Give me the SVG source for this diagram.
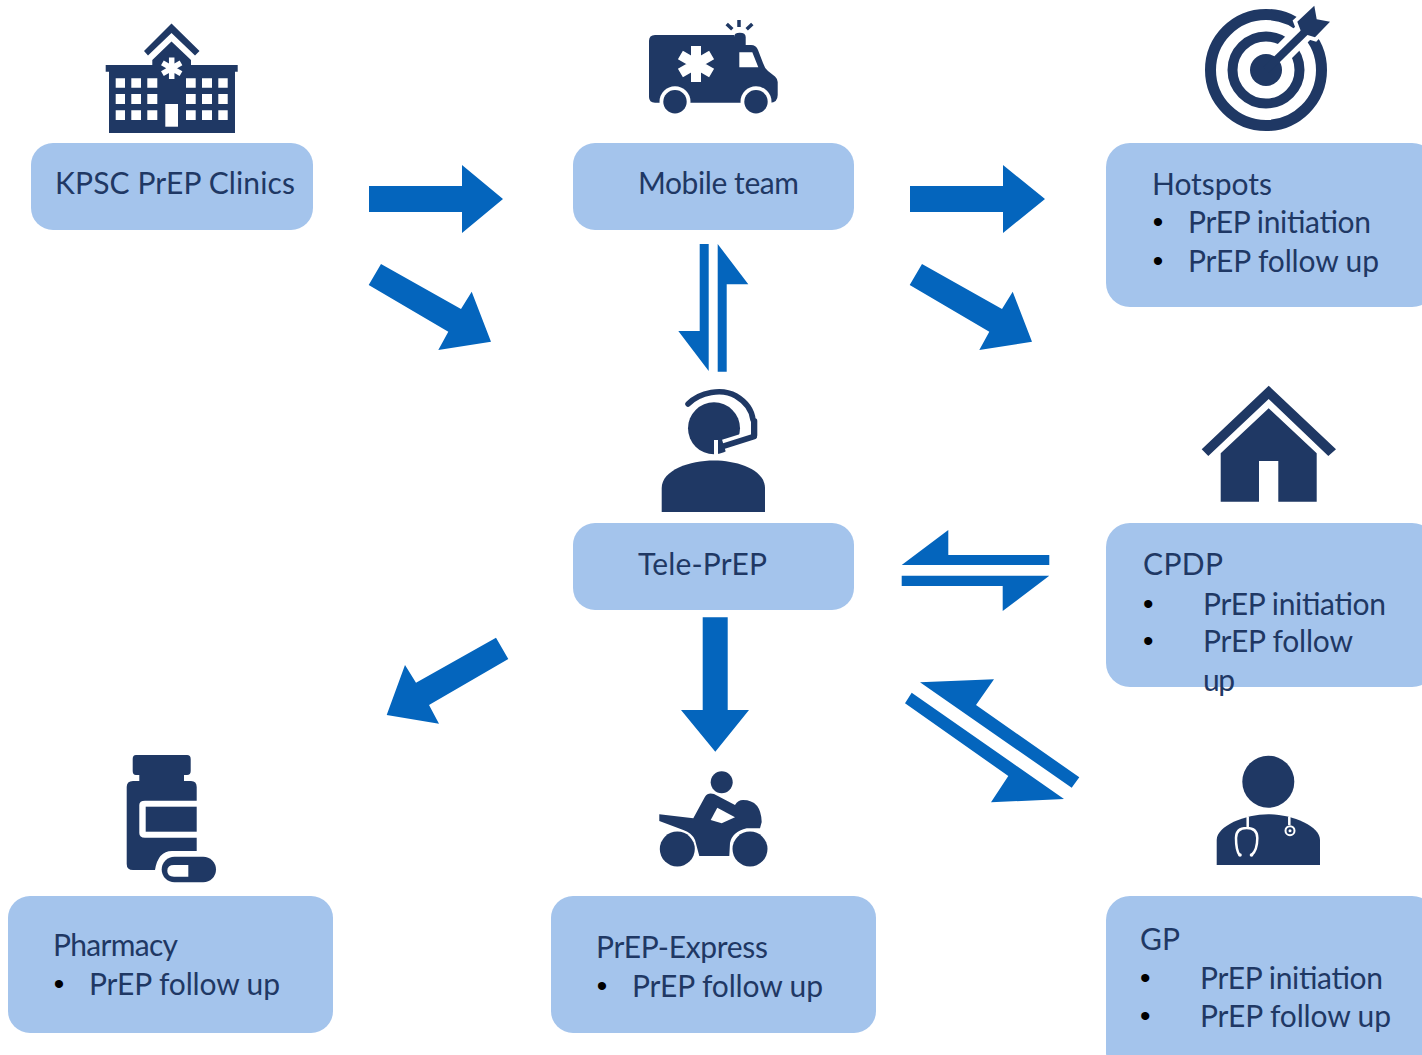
<svg xmlns="http://www.w3.org/2000/svg" width="1422" height="1055" viewBox="0 0 1422 1055">
<style>
.box{fill:#a4c4ec}
.ic{fill:#1f3864}
.w{fill:#fff}
.ln{fill:none;stroke:#1f3864}
.wl{fill:none;stroke:#fff}
.ar{fill:#0465bd}
text{font-family:"Lato","Open Sans","Liberation Sans",sans-serif;font-size:30px;fill:#1f3864}
text.b{font-family:"Liberation Sans",Arial,sans-serif;fill:#000}
</style>
<rect width="1422" height="1055" fill="#fff"/>
<g id="connectors" class="ar">
<path d="M369 186H462V165L503 199L462 233V212H369Z"/>
<path d="M910 186H1003V165L1045 199L1003 233V212H910Z"/>
<path d="M381 264L461 309L471.7 291.7L491 341.7L438.3 350L448.3 331.7L368.7 285Z"/>
<path d="M922 264L1002 309L1012.7 291.7L1032 341.7L979.3 350L989.3 331.7L909.7 285Z"/>
<path d="M699.7 244H708.7V371L678.3 331H699.7Z"/>
<path d="M717.7 244L748.3 284.3H726.7V371.7H717.7Z"/>
<path d="M948.3 530L901.7 565H1049.3V555H948.3Z"/>
<path d="M901.7 575.7H1049.3L1002.7 611V586H901.7Z"/>
<path d="M702.7 617.3H727.7V710H749L715.3 751.7L681 710H702.7Z"/>
<path d="M496 637.7L508.3 659L429 705L439 723.7L386.7 715L405 665L416 682.7Z"/>
<path d="M920 682.3L994 679.3L976 705L1079.3 777.3L1071.7 787.7Z"/>
<path d="M911.7 692.7L905 703.3L1008.3 776L991 802.3L1064 799Z"/>
</g>
<g id="node-kpsc">
<rect class="box" x="31" y="143" width="282" height="87" rx="22"/>
<text x="55" y="193.500" textLength="240">KPSC PrEP Clinics</text>
<path class="ic" d="M171.500 23.500L199.500 51L195 55.500L171.500 33L148 55.500L144 51Z"/>
<path class="ic" d="M171.500 41.500L191 60V65H237.700V71.700H235V133H109V71.700H105.700V65H152.300V60Z"/>
<g class="w">
<path d="M115.700 78.300h9.300v9.400h-9.300zM131.300 78.300h9.700v9.400h-9.700zM147.300 78.300h10v9.400h-10zM186 78.300h9.700v9.400H186zM202 78.300h10v9.400h-10zM218.300 78.300h9.400v9.400h-9.400z"/>
<path d="M115.700 94h9.300v10h-9.300zM131.300 94h9.700v10h-9.700zM147.300 94h10v10h-10zM186 94h9.700v10H186zM202 94h10v10h-10zM218.300 94h9.400v10h-9.400z"/>
<path d="M115.700 110.300h9.300v9.700h-9.300zM131.300 110.300h9.700v9.700h-9.700zM147.300 110.300h10v9.700h-10zM186 110.300h9.700v9.700H186zM202 110.300h10v9.700h-10zM218.300 110.300h9.400v9.700h-9.400z"/>
<rect x="165.300" y="104" width="12.700" height="22.700"/>
</g>
<path class="wl" stroke-width="5.500" d="M171.700 57.500V79M162.400 62.900L181 73.600M162.400 73.600L181 62.900"/>
</g>
<g id="node-mobile">
<rect class="box" x="573" y="143" width="281" height="87" rx="22"/>
<text x="638" y="193.500" textLength="161">Mobile team</text>
<path class="ic" d="M655 35H734V37Q734 32.700 739.800 32.700Q745.700 32.700 745.700 37V45H751Q756 45 758 50L763 63Q764.500 68 768 71L775 76.500Q777.700 79 777.700 82V95Q777.700 102.700 770 102.700H655Q649 102.700 649 97V41Q649 35 655 35Z"/>
<circle class="w" cx="675" cy="101.700" r="15.500"/>
<circle class="w" cx="756" cy="101.700" r="15.500"/>
<rect class="w" x="645" y="103" width="140" height="16"/>
<circle class="ic" cx="675" cy="101.700" r="11.700"/><circle class="ic" cx="756" cy="101.700" r="11.700"/>
<path class="w" d="M739.300 52.300H752.300L758.300 67.300H739.300Z"/>
<path class="wl" stroke-width="10" d="M696 46V82M680.400 55L711.600 73M680.400 73L711.600 55"/>
<path class="ln" stroke-width="3.500" d="M739 20V27M726.700 24L732.300 29.300M752.300 24L746.700 29.300"/>
</g>
<g id="node-hotspots">
<rect class="box" x="1106" y="143" width="330" height="164" rx="24"/>
<text x="1152" y="195" textLength="120">Hotspots</text>
<text class="b" x="1152.700" y="232">•</text><text x="1188" y="233" textLength="183">PrEP initiation</text>
<text class="b" x="1152.700" y="271">•</text><text x="1188" y="272" textLength="191">PrEP follow up</text>
<circle class="ln" cx="1266" cy="70" r="55.500" stroke-width="11"/>
<circle class="ln" cx="1266" cy="70" r="33.500" stroke-width="10"/>
<path class="wl" stroke-width="20" d="M1275 61L1312 24"/>
<path class="w" stroke="#fff" stroke-width="8" d="M1297.300 21.700L1314.300 5.700L1316.700 19.300L1330 21.700L1315 37.300L1301.700 33.300Z"/>
<circle class="ic" cx="1266" cy="70" r="16"/>
<path class="ln" stroke-width="8" d="M1266 70L1310 27"/>
<path class="ic" d="M1297.300 21.700L1314.300 5.700L1316.700 19.300L1330 21.700L1315 37.300L1301.700 33.300Z"/>
</g>
<g id="node-teleprep">
<rect class="box" x="573" y="523" width="281" height="87" rx="22"/>
<text x="638" y="575" textLength="129">Tele-PrEP</text>
<circle class="ic" cx="714" cy="428.300" r="26"/>
<path class="ln" stroke-width="5.500" stroke-linecap="round" d="M688 404C700 392 722 388 736 396C746 402 752 410 753 420"/>
<path class="wl" stroke-width="13" d="M756 436L724 446"/>
<path class="wl" stroke-width="4" d="M716 440V456"/>
<path class="ic" d="M751 418.300H755Q757.300 418.300 757.300 421V435Q757.300 438 755 438.300L751 439.500Z"/>
<path class="ln" stroke-width="6" stroke-linecap="round" d="M754 436.500L724 446"/>
<path class="ic" d="M661.700 512V488C661.700 470 690 460.500 714 460.500C738 460.500 765 470 765 488V512Z"/>
</g>
<g id="node-cpdp">
<rect class="box" x="1106" y="523" width="330" height="164" rx="24"/>
<text x="1143" y="575" textLength="80">CPDP</text>
<text class="b" x="1143" y="614">•</text><text x="1203" y="614.500" textLength="183">PrEP initiation</text>
<text class="b" x="1143" y="651">•</text><text x="1203" y="651.500" textLength="150">PrEP follow</text>
<text x="1203" y="691" textLength="32">up</text>
<path class="ic" d="M1268.700 385.700L1336 449.300L1328.300 456L1268.700 399L1208.300 456L1201.700 449.300Z"/>
<path class="ic" d="M1268.700 408.300L1316.700 453.300V501.700H1278.300V461H1259V501.700H1220.700V453.300Z"/>
</g>
<g id="node-pharmacy">
<rect class="box" x="8" y="896" width="325" height="137" rx="22"/>
<text x="53" y="955.500" textLength="125">Pharmacy</text>
<text class="b" x="53.700" y="994">•</text><text x="89" y="994.500" textLength="191">PrEP follow up</text>
<path class="ic" d="M136 755H187Q190.700 755 190.700 759V771Q190.700 775 187 775H184V781H191Q196.700 781 196.700 787V800.700H145Q139.300 800.700 139.300 805V833Q139.300 837.700 145 837.700H196.700V851H172Q158 851 155 870H133Q126.700 870 126.700 864V787Q126.700 781 133 781H139.300V775H136Q132.700 775 132.700 771V759Q132.700 755 136 755Z"/>
<rect class="ic" x="145.700" y="806.700" width="51" height="25"/>
<rect class="ic" x="161.700" y="856.700" width="54.300" height="25.600" rx="12.800"/>
<path class="w" d="M188.300 865V876.700H174Q167.300 876.700 167.300 870.800Q167.300 865 174 865Z"/>
</g>
<g id="node-express">
<rect class="box" x="551" y="896" width="325" height="137" rx="22"/>
<text x="596" y="958" textLength="172">PrEP-Express</text>
<text class="b" x="596.700" y="996">•</text><text x="632" y="996.500" textLength="191">PrEP follow up</text>
<circle class="ic" cx="721.700" cy="782.300" r="11"/>
<path class="ic" d="M659.300 814.300L693.300 818.300L705 796.700Q708 792 714 794L735 805Q738 800 743 800Q761 800 761.700 822L760 828.300H746.700Q732 832 730 843L729.300 856H699.300L695 840Q692 833 683.300 830L659.300 821Z"/>
<path class="w" d="M717.300 807.700L735 817.300L721.700 823.300L710.700 820Z"/>
<circle class="ic" cx="677.300" cy="849" r="17.500"/>
<circle class="ic" cx="750" cy="849" r="17.500"/>
</g>
<g id="node-gp">
<rect class="box" x="1106" y="896" width="330" height="180" rx="24"/>
<text x="1140" y="950" textLength="40">GP</text>
<text class="b" x="1140" y="988">•</text><text x="1200" y="988.500" textLength="183">PrEP initiation</text>
<text class="b" x="1140" y="1026">•</text><text x="1200" y="1026.500" textLength="191">PrEP follow up</text>
<circle class="ic" cx="1268.300" cy="781.700" r="26"/>
<path class="ic" d="M1216.700 865V840C1216.700 826 1245 814.300 1268.300 814.300C1292 814.300 1320 826 1320 840V865Z"/>
<path class="wl" stroke-width="2.500" d="M1247.700 816.700V828M1239.500 855Q1236 850 1236 838Q1236 828 1246.700 828Q1257.300 828 1257.300 838Q1257.300 850 1251.700 855M1289.300 816.700V825"/>
<circle class="w" cx="1240" cy="855" r="1.800"/><circle class="w" cx="1251.500" cy="855" r="1.800"/>
<circle class="wl" cx="1290" cy="830.700" r="4.500" stroke-width="2"/>
<circle class="w" cx="1290" cy="830.700" r="1.500"/>
</g>
</svg>
